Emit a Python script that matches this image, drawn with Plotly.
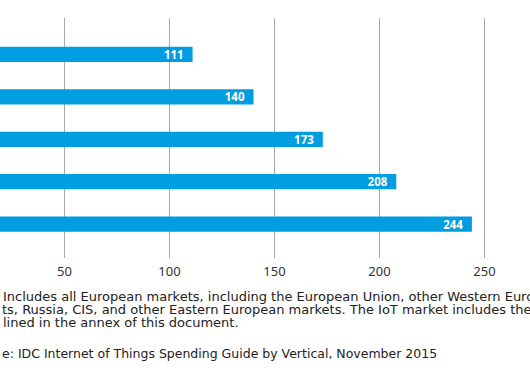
import plotly.graph_objects as go

# Data
categories = ["2015", "2016", "2017", "2018", "2019"]
values = [111, 140, 173, 208, 244]
tick_vals = [0, 50, 100, 150, 200, 250]

note_lines = [
    ("Europe: ", "Includes all European markets, including the European Union, other Western European markets,"),
    ("Western European marke", "ts, Russia, CIS, and other Eastern European markets. The IoT market includes the spending"),
    ("categories as out", "lined in the annex of this document."),
    ("Sourc", "e: IDC Internet of Things Spending Guide by Vertical, November 2015"),
]

W, H = 530, 379
TOP, BOTTOM = 17.5, 258
FONT = "Noto Sans"
NOTE_FONT = "DejaVu Sans"

fig = go.Figure()
fig.add_trace(go.Bar(
    y=categories, x=values, orientation="h",
    marker=dict(color="#009ee0", line=dict(width=0)),
    width=0.36,
    text=[str(v) for v in values],
    texttemplate="%{text}\u00a0\u00a0",
    textposition="inside", insidetextanchor="end",
    constraintext="none",
    textfont=dict(color="white", size=11.5, family=FONT, weight="bold"),
    cliponaxis=True,
    hoverinfo="skip",
))

def py2paper(py):
    return (BOTTOM - py) / (BOTTOM - TOP)

line_y = [297, 309.6, 322.2, 353.3]
line_size = [13, 13, 13, 12.5]
start_x = [1, 0, 1, 0]
anns = []
for (pre, vis), yy, sx, fs in zip(note_lines, line_y, start_x, line_size):
    anns.append(dict(text=vis, x=sx / W, y=py2paper(yy), xref="paper", yref="paper",
                     xanchor="left", yanchor="middle", showarrow=False,
                     font=dict(family=NOTE_FONT, size=fs, color="#222")))
    anns.append(dict(text=pre, x=sx / W, y=py2paper(yy), xref="paper", yref="paper",
                     xanchor="right", yanchor="middle", showarrow=False,
                     font=dict(family=NOTE_FONT, size=fs, color="#222")))

fig.update_layout(
    width=W, height=H,
    margin=dict(l=0, r=0, t=TOP, b=H - BOTTOM),
    plot_bgcolor="white", paper_bgcolor="white",
    showlegend=False,
    xaxis=dict(range=[40.5 / 2.1, 40.5 / 2.1 + W / 2.1], tickvals=tick_vals,
               showgrid=True, gridcolor="#a8a8a8", gridwidth=1,
               zeroline=False, showline=False, ticks="",
               ticklabelstandoff=4,
               tickfont=dict(family=FONT, size=13, color="#333")),
    yaxis=dict(type="category", range=[4.8, -0.86], showticklabels=False,
               showgrid=False, zeroline=False, showline=False, ticks=""),
    annotations=anns,
    font=dict(family=FONT),
)
fig.write_html("out.html", config={"displayModeBar": False},
               post_script="document.body.style.margin='0';document.body.style.overflow='hidden';")
